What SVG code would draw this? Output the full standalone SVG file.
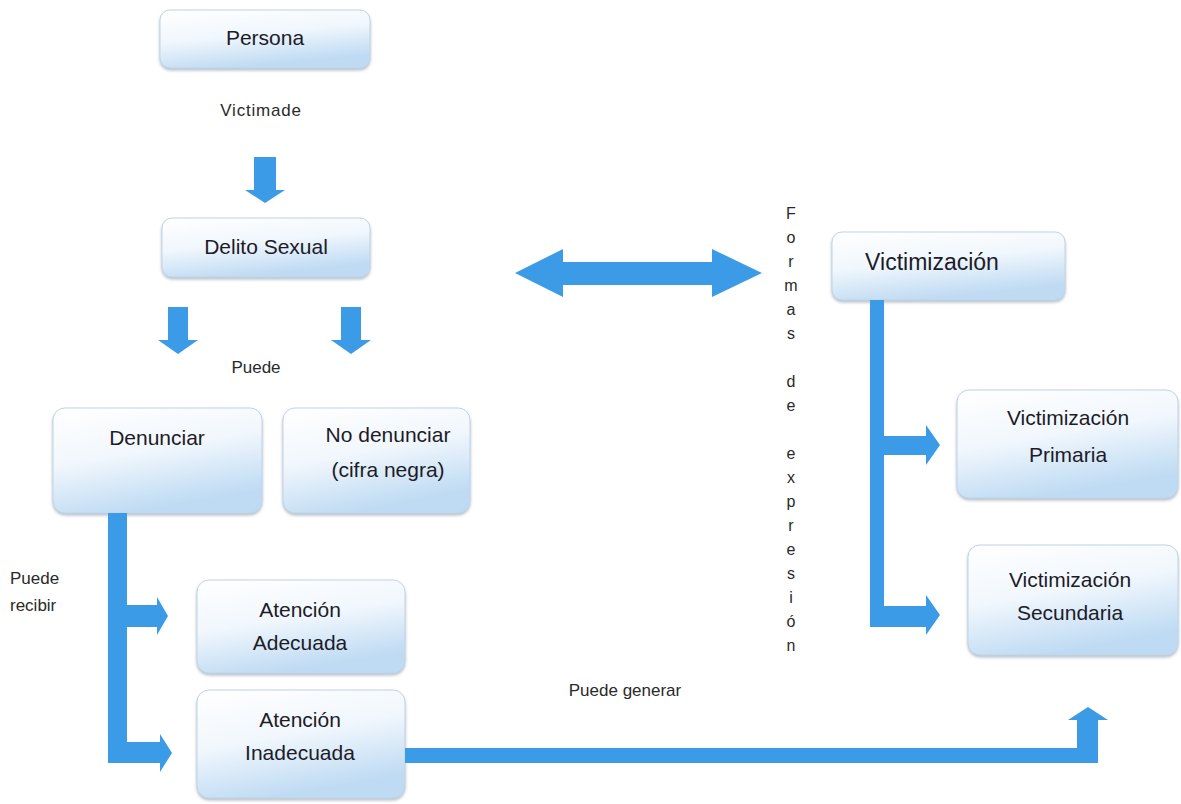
<svg xmlns="http://www.w3.org/2000/svg" width="1181" height="804" viewBox="0 0 1181 804">
<defs>
<linearGradient id="boxg" x1="0" y1="0" x2="0.35" y2="1">
<stop offset="0" stop-color="#ffffff"/>
<stop offset="0.5" stop-color="#f1f7fd"/>
<stop offset="1" stop-color="#bfdbf3"/>
</linearGradient>
<filter id="sh" x="-10%" y="-10%" width="120%" height="130%">
<feDropShadow dx="0" dy="2" stdDeviation="1.5" flood-color="#7f97ad" flood-opacity="0.6"/>
</filter>
<style>
.box{fill:url(#boxg);stroke:#c3d3e2;stroke-width:1;filter:url(#sh)}
.t{font-family:"Liberation Sans",Arial,sans-serif;font-size:21px;fill:#1c1c28;text-anchor:middle}
.s{font-family:"Liberation Sans",Arial,sans-serif;font-size:17px;fill:#2a2a2a}
.v{font-family:"Liberation Sans",Arial,sans-serif;font-size:17px;fill:#2a2a2a;text-anchor:middle}
.f{font-family:"Liberation Sans",Arial,sans-serif;font-size:16px;fill:#2a2a2a;text-anchor:middle}
.a{fill:#3b9be6}
</style>
</defs>
<rect width="1181" height="804" fill="#ffffff"/>

<g id="persona"><rect class="box" x="160" y="10" width="210" height="58" rx="10"/><text class="t" x="265" y="45">Persona</text></g>
<g id="delito"><rect class="box" x="162" y="218" width="208" height="59" rx="10"/><text class="t" x="266" y="254">Delito Sexual</text></g>
<g id="victimizacion"><rect class="box" x="832" y="232" width="233" height="68" rx="10"/><text class="t" x="932" y="270" style="font-size:23px">Victimización</text></g>
<g id="denunciar"><rect class="box" x="53" y="408" width="209" height="105" rx="12"/><text class="t" x="157" y="445">Denunciar</text></g>
<g id="nodenunciar"><rect class="box" x="283" y="408" width="187" height="105" rx="12"/><text class="t" x="388" y="442">No denunciar</text><text class="t" x="388" y="477">(cifra negra)</text></g>
<g id="primaria"><rect class="box" x="957" y="390" width="221" height="108" rx="12"/><text class="t" x="1068" y="425">Victimización</text><text class="t" x="1068" y="462">Primaria</text></g>
<g id="secundaria"><rect class="box" x="968" y="545" width="210" height="110" rx="12"/><text class="t" x="1070" y="587">Victimización</text><text class="t" x="1070" y="620">Secundaria</text></g>
<g id="adecuada"><rect class="box" x="197" y="580" width="208" height="93" rx="12"/><text class="t" x="300" y="617">Atención</text><text class="t" x="300" y="650">Adecuada</text></g>
<g id="inadecuada"><rect class="box" x="197" y="690" width="208" height="108" rx="12"/><text class="t" x="300" y="727">Atención</text><text class="t" x="300" y="760">Inadecuada</text></g>

<g id="labels">
<text class="v" x="261" y="116" letter-spacing="0.8">Victimade</text>
<text class="v" x="256" y="373">Puede</text>
<text class="s" x="10" y="584">Puede</text>
<text class="s" x="10" y="611">recibir</text>
<text class="v" x="625" y="696">Puede generar</text>
<g class="f">
<text x="791" y="219">F</text>
<text x="791" y="243">o</text>
<text x="791" y="267">r</text>
<text x="791" y="291">m</text>
<text x="791" y="315">a</text>
<text x="791" y="339">s</text>
<text x="791" y="387">d</text>
<text x="791" y="411">e</text>
<text x="791" y="459">e</text>
<text x="791" y="483">x</text>
<text x="791" y="507">p</text>
<text x="791" y="531">r</text>
<text x="791" y="555">e</text>
<text x="791" y="579">s</text>
<text x="791" y="603">i</text>
<text x="791" y="627">ó</text>
<text x="791" y="651">n</text>
</g>
</g>

<g id="connectors">
<polygon class="a" points="254,157 276,157 276,190 285,190 265,203 245,190 254,190"/>
<polygon class="a" points="168,307 188,307 188,340 198,340 178,354 158,340 168,340"/>
<polygon class="a" points="341,307 361,307 361,340 371,340 351,354 331,340 341,340"/>
<polygon class="a" points="515,273 563,249 563,262 712,262 712,249 762,273 712,297 712,285 563,285 563,297"/>
<rect class="a" x="870" y="300" width="14" height="327"/>
<polygon class="a" points="884,436 926,436 926,425 940,445 926,465 926,455 884,455"/>
<polygon class="a" points="884,606 926,606 926,595 940,615 926,635 926,627 884,627"/>
<rect class="a" x="108" y="513" width="19" height="250"/>
<polygon class="a" points="127,605 157,605 157,597 168,616 157,635 157,627 127,627"/>
<polygon class="a" points="127,742 160,742 160,734 172,753 160,772 160,763 127,763"/>
<polygon class="a" points="405,748 1077,748 1077,720 1068,720 1088,707 1108,720 1098,720 1098,763 405,763"/>
</g>
</svg>
